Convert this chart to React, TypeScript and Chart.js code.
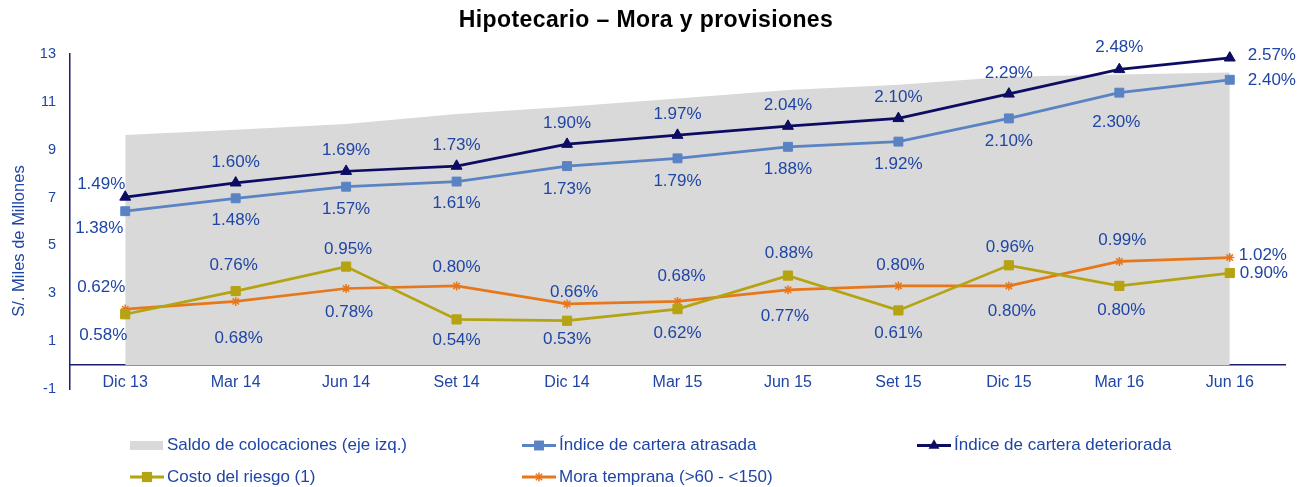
import React, { useEffect, useRef } from "react";
import { Chart, registerables } from "chart.js";

Chart.register(...registerables);

// ---------------- Data ----------------
const categories = ["Dic 13", "Mar 14", "Jun 14", "Set 14", "Dic 14", "Mar 15", "Jun 15", "Set 15", "Dic 15", "Mar 16", "Jun 16"];
const saldoColocaciones = [9.61, 9.83, 10.07, 10.49, 10.8, 11.14, 11.5, 11.72, 12.05, 12.14, 12.23];
const indiceAtrasada = [1.38, 1.48, 1.57, 1.61, 1.73, 1.79, 1.88, 1.92, 2.1, 2.3, 2.4];
const indiceDeteriorada = [1.49, 1.6, 1.69, 1.73, 1.9, 1.97, 2.04, 2.1, 2.29, 2.48, 2.57];
const costoRiesgo = [0.58, 0.76, 0.95, 0.54, 0.53, 0.62, 0.88, 0.61, 0.96, 0.8, 0.9];
const moraTemprana = [0.62, 0.68, 0.78, 0.8, 0.66, 0.68, 0.77, 0.8, 0.8, 0.99, 1.02];
const leftAxisRange = [-1, 13];
const leftAxisStep = 2;
const rightAxisRange = [0, 2.6];

const TITLE = "Hipotecario \u2013 Mora y provisiones";
const Y_TITLE = "S/. Miles de Millones";
const NAMES = [
  "Saldo de colocaciones (eje izq.)",
  "\u00cdndice de cartera atrasada",
  "\u00cdndice de cartera deteriorada",
  "Costo del riesgo (1)",
  "Mora temprana (>60 - <150)",
];

// ---------------- Styles ----------------
const FONT = "'Liberation Sans', Arial, Helvetica, sans-serif";
const TEXT_BLUE = "#1F45A5";
const AXIS_NAVY = "#1A1F72";
const C_GRAY = "#D9D9D9";
const C_STEEL = "#5A83C3";
const C_NAVY = "#0C0C62";
const C_OLIVE = "#B5A312";
const C_ORANGE = "#E8771A";

// label offsets [dx, dy, leftAligned]
const offDeteriorada = [[-24, -13], [0, -21], [0, -21], [0, -21], [0, -21], [0, -21], [0, -21], [0, -21], [0, -21], [0, -22], [18, -3, true]];
const offAtrasada = [[-26, 17], [0, 22], [0, 23], [0, 22], [0, 23], [0, 23], [0, 23], [0, 23], [0, 23], [-3, 30], [18, 1, true]];
const offCosto = [[-22, 21], [-2, -26], [2, -17], [0, 21], [0, 19], [0, 24], [1, -22], [0, 23], [1, -18], [2, 24], [10, 0, true]];
const offMora = [[-24, -22], [3, 37], [3, 24], [0, -19], [7, -12], [4, -25], [-3, 27], [2, -21], [3, 25], [3, -21], [9, -2, true]];

// legend layout
const legendCols = [130, 522, 917];
const legendRows = [445.5, 477];
const legendSlots = [
  [0, 0],
  [1, 0],
  [2, 0],
  [0, 1],
  [1, 1],
];

function drawMarker(ctx, style, x, y, color, r) {
  ctx.save();
  ctx.fillStyle = color;
  ctx.strokeStyle = color;
  if (style === "rect") {
    const s = r * Math.SQRT1_2;
    ctx.fillRect(x - s - 0.5, y - s - 0.5, 2 * s + 1, 2 * s + 1);
  } else if (style === "triangle") {
    ctx.beginPath();
    let a = 0;
    for (let k = 0; k < 3; k++) {
      const px = x + Math.sin(a) * r;
      const py = y - Math.cos(a) * r;
      if (k === 0) ctx.moveTo(px, py);
      else ctx.lineTo(px, py);
      a += (2 * Math.PI) / 3;
    }
    ctx.closePath();
    ctx.fill();
  } else if (style === "star") {
    ctx.lineWidth = 1.5;
    ctx.beginPath();
    for (let k = 0; k < 4; k++) {
      const a = (k * Math.PI) / 4;
      ctx.moveTo(x - Math.cos(a) * r, y - Math.sin(a) * r);
      ctx.lineTo(x + Math.cos(a) * r, y + Math.sin(a) * r);
    }
    ctx.stroke();
  }
  ctx.restore();
}

const decorPlugin = {
  id: "decor",
  afterDatasetsDraw(chart) {
    const ctx = chart.ctx;
    ctx.save();
    ctx.font = `17px ${FONT}`;
    ctx.fillStyle = TEXT_BLUE;
    ctx.textBaseline = "middle";
    chart.data.datasets.forEach((ds, i) => {
      const offs = ds.labelOffsets;
      if (!offs) return;
      const meta = chart.getDatasetMeta(i);
      meta.data.forEach((pt, j) => {
        const o = offs[j];
        ctx.textAlign = o[2] ? "left" : "center";
        ctx.fillText(Number(ds.data[j]).toFixed(2) + "%", pt.x + o[0], pt.y + o[1]);
      });
    });
    ctx.restore();
  },
  afterDraw(chart) {
    const ctx = chart.ctx;
    // Title
    ctx.save();
    ctx.font = `bold 23px ${FONT}`;
    ctx.fillStyle = "#000000";
    ctx.textAlign = "center";
    ctx.textBaseline = "alphabetic";
    try {
      ctx.letterSpacing = "0.4px";
    } catch (e) {}
    ctx.fillText(TITLE, 646, 27);
    ctx.restore();

    // Y axis title
    ctx.save();
    ctx.font = `16.5px ${FONT}`;
    ctx.fillStyle = TEXT_BLUE;
    ctx.textAlign = "center";
    ctx.textBaseline = "middle";
    ctx.translate(19, 241);
    ctx.rotate(-Math.PI / 2);
    ctx.fillText(Y_TITLE, 0, 0);
    ctx.restore();

    // Legend
    chart.data.datasets.forEach((ds, i) => {
      const slot = legendSlots[i];
      const x = legendCols[slot[0]];
      const y = legendRows[slot[1]];
      ctx.save();
      if (ds.fill) {
        ctx.fillStyle = ds.backgroundColor;
        ctx.fillRect(x, y - 4.5, 33, 9);
      } else {
        ctx.strokeStyle = ds.borderColor;
        ctx.lineWidth = 3;
        ctx.beginPath();
        ctx.moveTo(x, y);
        ctx.lineTo(x + 34, y);
        ctx.stroke();
        drawMarker(ctx, ds.pointStyle, x + 17, y, ds.borderColor, ds.pointStyle === "star" ? 4.5 : ds.pointRadius);
      }
      ctx.font = `17px ${FONT}`;
      ctx.fillStyle = TEXT_BLUE;
      ctx.textAlign = "left";
      ctx.textBaseline = "middle";
      ctx.fillText(ds.label, x + 37, y);
      ctx.restore();
    });
  },
};

export default function App() {
  const ref = useRef(null);
  useEffect(() => {
    const canvas = ref.current;
    if (!canvas) return;
    const lineBase = {
      type: "line",
      yAxisID: "y1",
      fill: false,
      clip: false,
      tension: 0,
      borderWidth: 2.75,
      pointBorderWidth: 1,
      pointHoverRadius: 6,
    };
    const chart = new Chart(canvas, {
      type: "line",
      data: {
        labels: categories,
        datasets: [
          {
            type: "line",
            label: NAMES[0],
            data: saldoColocaciones,
            yAxisID: "y",
            fill: "origin",
            backgroundColor: C_GRAY,
            borderColor: C_GRAY,
            borderWidth: 0,
            pointRadius: 0,
            tension: 0,
            order: 10,
          },
          {
            ...lineBase,
            label: NAMES[1],
            data: indiceAtrasada,
            borderColor: C_STEEL,
            backgroundColor: C_STEEL,
            pointStyle: "rect",
            pointRadius: 6.3,
            order: 2,
            labelOffsets: offAtrasada,
          },
          {
            ...lineBase,
            label: NAMES[2],
            data: indiceDeteriorada,
            borderColor: C_NAVY,
            backgroundColor: C_NAVY,
            pointStyle: "triangle",
            pointRadius: 6.3,
            order: 1,
            labelOffsets: offDeteriorada,
          },
          {
            ...lineBase,
            label: NAMES[3],
            data: costoRiesgo,
            borderColor: C_OLIVE,
            backgroundColor: C_OLIVE,
            pointStyle: "rect",
            pointRadius: 6.5,
            order: 3,
            labelOffsets: offCosto,
          },
          {
            ...lineBase,
            label: NAMES[4],
            data: moraTemprana,
            borderColor: C_ORANGE,
            backgroundColor: C_ORANGE,
            pointStyle: "star",
            pointRadius: 4.5,
            pointBorderWidth: 1.5,
            order: 4,
            labelOffsets: offMora,
          },
        ],
      },
      options: {
        responsive: false,
        animation: false,
        devicePixelRatio: 1,
        layout: { padding: { top: 54, right: 24, bottom: 98, left: 0 } },
        plugins: {
          legend: { display: false },
          title: { display: false },
          tooltip: { enabled: false },
        },
        scales: {
          x: {
            type: "category",
            position: { y: 0 },
            offset: true,
            grid: { display: false, drawTicks: false },
            border: { display: true, color: AXIS_NAVY, width: 1.5 },
            ticks: {
              color: TEXT_BLUE,
              font: { family: FONT, size: 16 },
              padding: 8,
              maxRotation: 0,
              autoSkip: false,
            },
          },
          y: {
            type: "linear",
            position: "left",
            min: leftAxisRange[0],
            max: leftAxisRange[1],
            grid: { display: false, drawTicks: false },
            border: { display: true, color: AXIS_NAVY, width: 1.5 },
            ticks: {
              stepSize: leftAxisStep,
              color: TEXT_BLUE,
              font: { family: FONT, size: 14.5 },
              padding: 14,
            },
            afterFit: (s) => {
              s.width = 70;
            },
          },
          y1: {
            type: "linear",
            position: "right",
            display: false,
            min: rightAxisRange[0],
            max: rightAxisRange[1],
          },
        },
      },
      plugins: [decorPlugin],
    });
    return () => chart.destroy();
  }, []);

  return (
    <div style={{ position: "absolute", left: 0, top: 0, width: 1309, height: 487, background: "#ffffff" }}>
      <canvas ref={ref} width={1309} height={487} style={{ display: "block" }} />
    </div>
  );
}
